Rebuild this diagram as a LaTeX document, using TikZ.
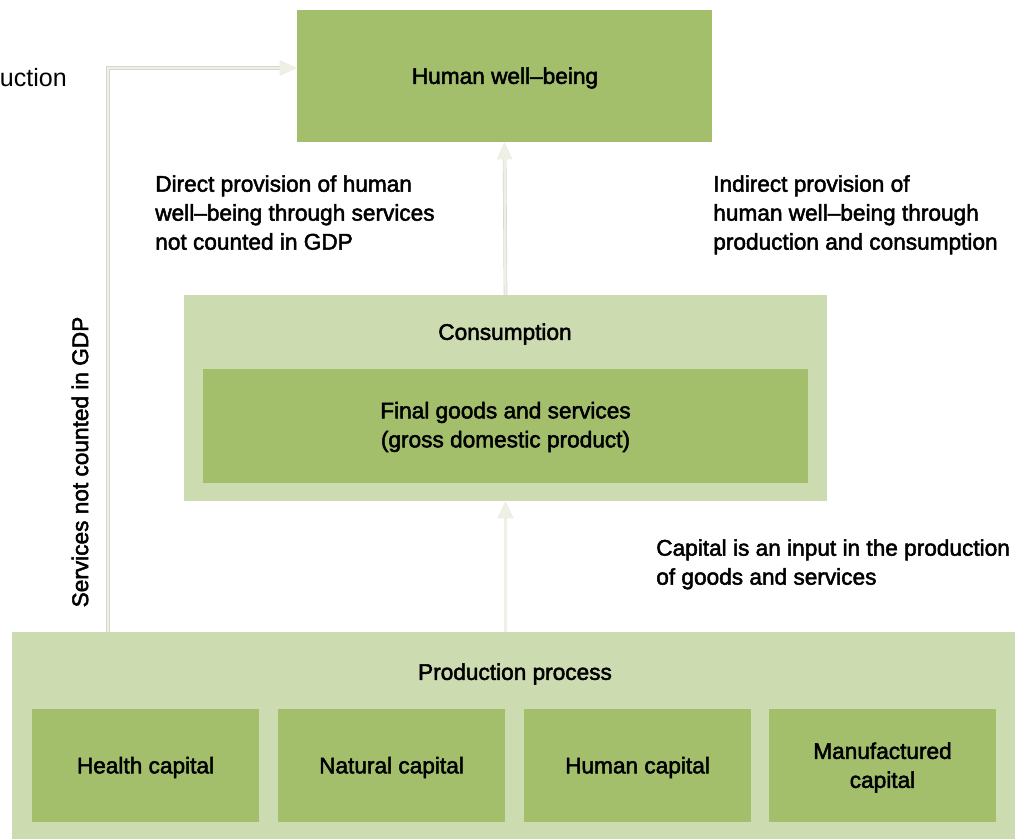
\documentclass[tikz,border=0pt]{standalone}
\usepackage{fontspec}
\setmainfont{Liberation Sans}
\newfontfamily\medfont{Liberation Sans}[FakeBold=2.2]
\usetikzlibrary{arrows.meta}

\definecolor{darkgreen}{RGB}{163,191,108}
\definecolor{lightgreen}{RGB}{204,220,176}
\definecolor{palearrow}{RGB}{238,240,230}
\definecolor{arrowedge}{RGB}{214,216,204}

\tikzset{
  darkbox/.style={fill=darkgreen, inner sep=0pt},
  lightbox/.style={fill=lightgreen, inner sep=0pt},
  lbl/.style={font=\fontsize{16.1}{20.6}\selectfont\medfont, inner sep=0pt},
  flow/.style={palearrow, line width=1.7pt,
    -{Triangle[length=12pt, width=10pt]},
    preaction={draw=arrowedge, line width=2.6pt, -{Triangle[length=12pt, width=10pt]}}},
}

\begin{document}
\begin{tikzpicture}[x=0.025cm, y=-0.025cm]
  \useasboundingbox (0,0) rectangle (1021,839);

  % ----- boxes -----
  \node[darkbox, minimum width=10.375cm, minimum height=3.3cm] (well) at (504.5,76) {};
  \node[lbl] (welltxt) at (505,78) {Human well–being};

  \node[lightbox, minimum width=16.075cm, minimum height=5.15cm] (cons) at (505.5,398) {};
  \node[lbl] (constxt) at (505,334) {Consumption};
  \node[darkbox, minimum width=15.125cm, minimum height=2.85cm] (gdp) at (505.5,426) {};
  \node[lbl, align=center] (gdptxt) at (505.5,427) {Final goods and services\\(gross domestic product)};

  \node[lightbox, minimum width=25.075cm, minimum height=5.175cm] (prod) at (513.5,735.5) {};
  \node[lbl] (prodtxt) at (515,674) {Production process};

  % ----- capital stocks -----
  \foreach \cx/\name/\txt in {145.5/health/Health capital,
                               391.5/natural/Natural capital,
                               637.5/human/Human capital,
                               882.5/manuf/Manufactured\\capital} {
    \node[darkbox, minimum width=5.675cm, minimum height=2.825cm] (\name) at (\cx,765.5) {};
    \node[lbl, align=center] (\name txt) at (\cx,767.5) {\txt};
  }

  % ----- flows -----
  \coordinate (bend) at (108,68);
  \draw[flow] (prod.north -| cons.south) -- (cons.south);
  \draw[flow] (cons.north) -- (well.south);
  \draw[flow] (prod.north -| bend) -- (bend) -- (well.west |- bend);

  % ----- annotations -----
  \node[font=\fontsize{17.8}{21}\selectfont, anchor=east, inner sep=0pt] (cut) at (67,78) {uction};
  \node[lbl, rotate=90] (notgdp) at (80,462) {Services not counted in GDP};
  \node[lbl, align=left, anchor=north west] (direct) at (155,175)
    {Direct provision of human\\well–being through services\\not counted in GDP};
  \node[lbl, align=left, anchor=north west] (indirect) at (713,175)
    {Indirect provision of\\human well–being through\\production and consumption};
  \node[lbl, align=left, anchor=north west] (input) at (656,539)
    {Capital is an input in the production\\of goods and services};
\end{tikzpicture}
\end{document}
